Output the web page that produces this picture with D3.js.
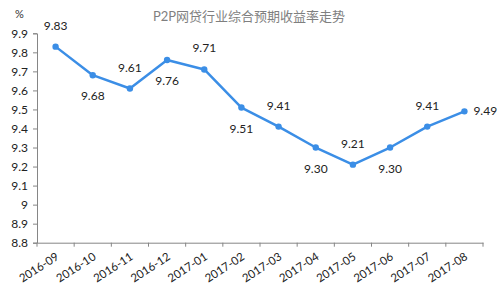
<!DOCTYPE html>
<html>
<head>
<meta charset="utf-8">
<script src="https://cdn.jsdelivr.net/npm/d3@7"></script>
<style>
body { margin: 0; background: #fff; }
text { font-family: Lato, "Noto Sans CJK SC", sans-serif; }
</style>
</head>
<body>
<script>
// months on the x axis
var months = ["2016-09", "2016-10", "2016-11", "2016-12", "2017-01", "2017-02",
              "2017-03", "2017-04", "2017-05", "2017-06", "2017-07", "2017-08"];
// expected yield, %
var rates = [9.83, 9.68, 9.61, 9.76, 9.71, 9.51, 9.41, 9.30, 9.21, 9.30, 9.41, 9.49];
// y tick values
var yTicks = [8.8, 8.9, 9, 9.1, 9.2, 9.3, 9.4, 9.5, 9.6, 9.7, 9.8, 9.9];

var title = "P2P网贷行业综合预期收益率走势";

makeChart();

function makeChart() {
    var w = 500, h = 291;
    var left = 37, right = 483, top = 33.3, bottom = 242.7;

    var svg = d3.select("body").append("svg")
        .attr("width", w)
        .attr("height", h);

    var x = d3.scaleBand().domain(months).range([left, right]);
    var y = d3.scaleLinear().domain([8.8, 9.9]).range([bottom, top]);

    //title and unit
    svg.append("text")
        .attr("x", 249).attr("y", 21)
        .attr("text-anchor", "middle")
        .attr("font-size", 13)
        .attr("fill", "#7f7f7f")
        .text(title);
    svg.append("text")
        .attr("x", 15).attr("y", 18)
        .attr("font-size", 11)
        .attr("fill", "#333")
        .text("%");

    //y axis
    var yAxis = svg.append("g")
        .attr("transform", "translate(" + left + ",0)")
        .call(d3.axisLeft(y).tickValues(yTicks).tickSize(4).tickPadding(5)
            .tickFormat(function(d) { return d === 9 ? "9" : d3.format(".1f")(d); }));
    yAxis.select(".domain").attr("stroke", "#868686");
    yAxis.selectAll(".tick line").attr("stroke", "#868686");
    yAxis.selectAll(".tick text")
        .attr("font-size", 12)
        .attr("fill", "#222")
        .style("font-family", "Lato, sans-serif");

    //x axis, ticks on band edges
    var xAxis = svg.append("g")
        .attr("transform", "translate(0," + bottom + ")")
        .call(d3.axisBottom(x).tickSize(0).tickPadding(0));
    xAxis.select(".domain").attr("stroke", "#868686");
    xAxis.selectAll(".tick text")
        .attr("font-size", 11.5)
        .attr("fill", "#222")
        .attr("text-anchor", "end")
        .attr("y", 0).attr("dy", 0)
        .attr("transform", "translate(4,16) rotate(-33)")
        .style("font-family", "Lato, sans-serif");
    var edges = months.map(function(m) { return x(m); }).concat([right]);
    xAxis.selectAll(".edge")
        .data(edges)
        .enter()
        .append("line")
        .attr("x1", function(d) { return d; })
        .attr("x2", function(d) { return d; })
        .attr("y1", 0).attr("y2", 4)
        .attr("stroke", "#868686");

    var cx = function(d, i) { return x(months[i]) + x.bandwidth() / 2; };
    var line = d3.line()
        .x(function(d, i) { return cx(d, i); })
        .y(function(d) { return y(d); });

    svg.append("path")
        .datum(rates)
        .attr("d", line)
        .attr("fill", "none")
        .attr("stroke", "#3b8ee6")
        .attr("stroke-width", 2.5)
        .attr("stroke-linejoin", "round");

    svg.selectAll("circle")
        .data(rates)
        .enter()
        .append("circle")
        .attr("cx", cx)
        .attr("cy", function(d) { return y(d); })
        .attr("r", 3.2)
        .attr("fill", "#3b8ee6");

    //value labels alternate above and below, last one to the right
    var last = rates.length - 1;
    svg.selectAll(".val")
        .data(rates)
        .enter()
        .append("text")
        .attr("class", "val")
        .attr("x", function(d, i) { return i === last ? cx(d, i) + 9 : cx(d, i); })
        .attr("y", function(d, i) {
            if (i === last) return y(d) + 4;
            return i % 2 === 0 ? y(d) - 17 : y(d) + 25;
        })
        .attr("text-anchor", function(d, i) { return i === last ? "start" : "middle"; })
        .attr("font-size", 12)
        .attr("fill", "#222")
        .text(function(d) { return d3.format(".2f")(d); });
}
</script>
</body>
</html>
